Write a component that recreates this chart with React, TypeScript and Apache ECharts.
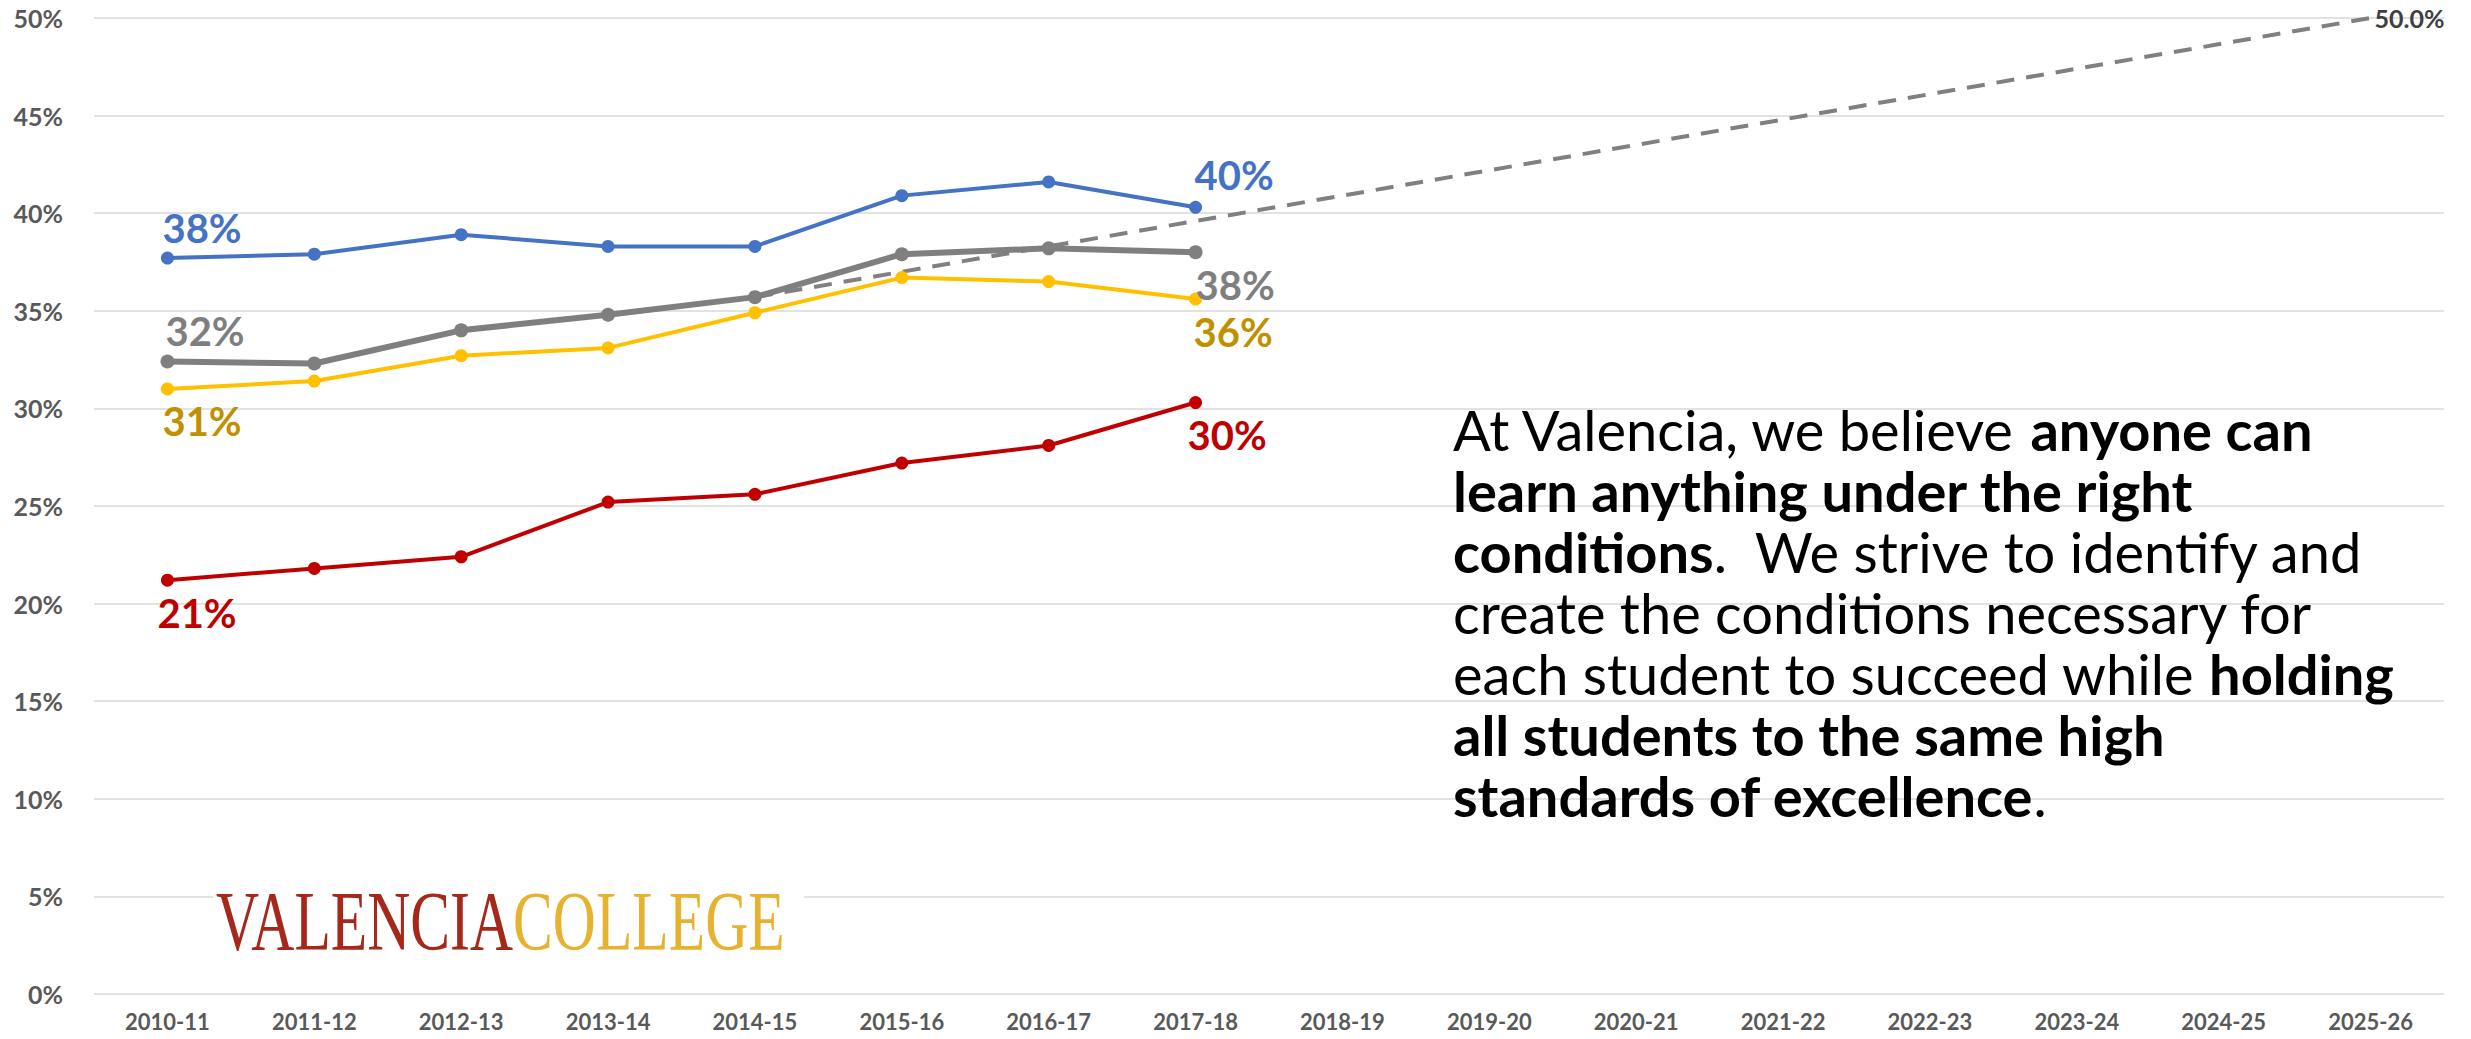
import React, { useEffect, useRef } from "react";
import * as echarts from "echarts";

const categories = [
  "2010-11", "2011-12", "2012-13", "2013-14", "2014-15", "2015-16", "2016-17", "2017-18",
  "2018-19", "2019-20", "2020-21", "2021-22", "2022-23", "2023-24", "2024-25", "2025-26",
];
const yTicks = { min: 0, max: 50, interval: 5 };

const blueValues = [37.7, 37.9, 38.9, 38.3, 38.3, 40.9, 41.6, 40.3];
const grayValues = [32.4, 32.3, 34.0, 34.8, 35.7, 37.9, 38.2, 38.0];
const yellowValues = [31.0, 31.4, 32.7, 33.1, 34.9, 36.7, 36.5, 35.6];
const redValues = [21.2, 21.8, 22.4, 25.2, 25.6, 27.2, 28.1, 30.3];
const goalValues: (number | null)[] = [
  null, null, null, null, 35.7, null, null, null,
  null, null, null, null, null, null, null, 50.0,
];

const textLines = [
  [["n", "At Valencia, we believe "], ["b", "anyone can"]],
  [["b", "learn anything under the right"]],
  [["b", "conditions"], ["n", ".  We strive to identify and"]],
  [["n", "create the conditions necessary for"]],
  [["n", "each student to succeed while "], ["b", "holding"]],
  [["b", "all students to the same high"]],
  [["b", "standards of excellence"], ["n", "."]],
];

const FONT = "Lato, 'Open Sans', sans-serif";

function labelStyle(color: string, pos: "top" | "bottom", dx: number, dist: number) {
  return {
    show: true,
    position: pos,
    align: "left",
    distance: dist,
    offset: [dx, 0],
    color,
    fontFamily: FONT,
    fontWeight: "bold",
    fontSize: 40,
    formatter: (p: any) => Math.round(p.value) + "%",
  };
}

function makeData(values: number[], first: any, last: any) {
  return values.map((v, i) => {
    if (i === 0) return { value: v, label: first };
    if (i === values.length - 1) return { value: v, label: last };
    return v;
  });
}

export default function App() {
  const ref = useRef<HTMLDivElement>(null);
  useEffect(() => {
    document.body.style.margin = "0";
    document.body.style.overflow = "hidden";
    const chart = echarts.init(ref.current!, undefined, { renderer: "svg" });
    const lineSeries = (name: string, values: number[], color: string, width: number, size: number, first: any, last: any) => ({
      name,
      type: "line",
      data: makeData(values, first, last),
      symbol: "circle",
      symbolSize: size,
      lineStyle: { color, width },
      itemStyle: { color },
      z: 3,
    });
    const rich = {
      n: { fontFamily: FONT, fontSize: 56, fontWeight: "normal", fill: "#000", lineHeight: 61 },
      b: { fontFamily: FONT, fontSize: 56, fontWeight: "bold", fill: "#000", lineHeight: 61 },
    };
    const richText = textLines
      .map((line) => line.map(([k, t]) => `{${k}|${t}}`).join(""))
      .join("\n");

    chart.setOption({
      animation: false,
      backgroundColor: "#fff",
      grid: { left: 94, right: 27, top: 18, bottom: 45, containLabel: false },
      xAxis: {
        type: "category",
        data: categories,
        boundaryGap: true,
        axisLine: { show: false },
        axisTick: { show: false },
        axisLabel: { color: "#595959", fontFamily: FONT, fontWeight: "bold", fontSize: 22, margin: 16 },
      },
      yAxis: {
        type: "value",
        min: yTicks.min,
        max: yTicks.max,
        interval: yTicks.interval,
        axisLine: { show: false },
        axisTick: { show: false },
        axisLabel: { color: "#595959", fontFamily: FONT, fontWeight: "bold", fontSize: 25, margin: 31, formatter: "{value}%" },
        splitLine: { lineStyle: { color: "#D9D9D9", width: 1.5 } },
      },
      series: [
        {
          name: "Goal",
          type: "line",
          data: goalValues,
          connectNulls: true,
          showSymbol: false,
          symbol: "none",
          lineStyle: { color: "#808080", width: 4, type: [18, 12] },
          endLabel: {
            show: true,
            distance: 4,
            color: "#404040",
            fontFamily: FONT,
            fontWeight: "bold",
            fontSize: 25,
            formatter: (p: any) => Number(p.value).toFixed(1) + "%",
          },
          z: 2,
        },
        lineSeries("Blue", blueValues, "#4472C4", 4, 13,
          labelStyle("#4472C4", "top", -5, 4), labelStyle("#4472C4", "top", -1, 6)),
        lineSeries("Gray", grayValues, "#7F7F7F", 6, 14,
          labelStyle("#7F7F7F", "top", -2, 4), labelStyle("#7F7F7F", "bottom", 0, 6)),
        lineSeries("Yellow", yellowValues, "#FFC000", 4, 13,
          labelStyle("#BF9000", "bottom", -5, 6), labelStyle("#BF9000", "bottom", -2, 6)),
        lineSeries("Red", redValues, "#C00000", 4, 13,
          labelStyle("#C00000", "bottom", -10, 6), labelStyle("#C00000", "bottom", -8, 6)),
      ],
      graphic: [
        {
          type: "rect",
          x: 213,
          y: 886,
          shape: { width: 591, height: 69 },
          style: { fill: "#fff" },
          z: 10,
        },
        {
          type: "text",
          x: 216,
          y: 922,
          scaleX: 0.71,
          z: 11,
          style: {
            text: "{r|VALENCIA}{g|COLLEGE}",
            verticalAlign: "middle",
            rich: {
              r: { fontFamily: "'Liberation Serif', 'DejaVu Serif', serif", fontSize: 84, fill: "#A5281B" },
              g: { fontFamily: "'Liberation Serif', 'DejaVu Serif', serif", fontSize: 84, fill: "#E8B231" },
            },
          },
        },
        {
          type: "text",
          x: 1453,
          y: 399,
          z: 11,
          style: {
            text: richText,
            verticalAlign: "top",
            lineHeight: 61,
            rich,
          },
        },
      ],
    });
    return () => chart.dispose();
  }, []);
  return <div ref={ref} style={{ width: 2471, height: 1039 }} />;
}
